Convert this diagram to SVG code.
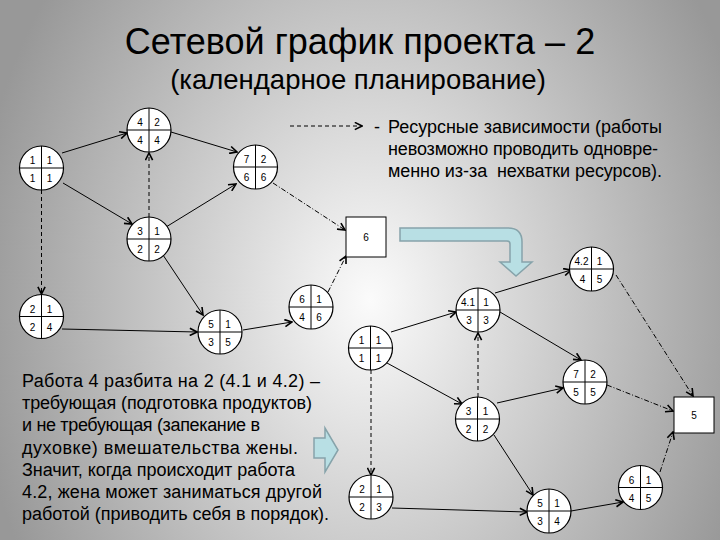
<svg xmlns="http://www.w3.org/2000/svg" width="720" height="540" viewBox="0 0 720 540">
<defs>
<radialGradient id="bg" gradientUnits="userSpaceOnUse" cx="0" cy="0" r="1" gradientTransform="translate(370 300) scale(400 520)">
<stop offset="0" stop-color="#fbfbfb"/>
<stop offset="1" stop-color="#989898"/>
</radialGradient>
<marker id="ah" viewBox="0 0 10 10" refX="9" refY="5" markerWidth="9" markerHeight="9" markerUnits="userSpaceOnUse" orient="auto">
<path d="M1,1 L9,5 L1,9" fill="none" stroke="#000" stroke-width="1.8" stroke-dasharray="none"/>
</marker>
<style>
.node circle{fill:#fff;stroke:#000;stroke-width:1.2}
.node path{stroke:#000;stroke-width:1;fill:none}
.node text,.box text{font-family:"Liberation Sans",Arial,sans-serif;font-size:10px;text-anchor:middle;fill:#000}
.box rect{fill:#fff;stroke:#000;stroke-width:1}
.c line{stroke:#000;stroke-width:1;fill:none;marker-end:url(#ah)}
.c .d{stroke-dasharray:4,3}
.c .dd{stroke-dasharray:5,2,1,2}
.big{fill:#b8dfe4;stroke:#86a3aa;stroke-width:1.5}
.title{font-family:"Liberation Sans",Arial,sans-serif;fill:#000;text-anchor:middle}
.txt{font-family:"Liberation Sans",Arial,sans-serif;font-size:18px;fill:#000}
</style>
</defs>
<rect width="720" height="540" fill="url(#bg)"/>

<text class="title" x="360" y="54" font-size="36">Сетевой график проекта – 2</text>
<text class="title" x="358" y="89" font-size="27.5">(календарное планирование)</text>

<g id="legend">
<line x1="290" y1="126" x2="362" y2="126" stroke="#000" stroke-width="1" stroke-dasharray="4,3" marker-end="url(#ah)"/>
<text class="txt" x="374" y="133">-</text>
<text class="txt" x="388" y="133" textLength="274">Ресурсные зависимости (работы</text>
<text class="txt" x="388" y="155" textLength="270">невозможно проводить одновре-</text>
<text class="txt" x="388" y="177" textLength="274" style="white-space:pre">менно из-за  нехватки ресурсов).</text>
</g>

<g id="note">
<text class="txt" x="22" y="387" textLength="298">Работа 4 разбита на 2 (4.1 и 4.2) –</text>
<text class="txt" x="22" y="409.2" textLength="290">требующая (подготовка продуктов)</text>
<text class="txt" x="22" y="431.4" textLength="238">и не требующая (запекание в</text>
<text class="txt" x="22" y="453.6" textLength="276">духовке) вмешательства жены.</text>
<text class="txt" x="22" y="475.8" textLength="273">Значит, когда происходит работа</text>
<text class="txt" x="22" y="498" textLength="300">4.2, жена может заниматься другой</text>
<text class="txt" x="22" y="520.2" textLength="307">работой (приводить себя в порядок).</text>
</g>

<g id="bigArrows">
<path class="big" d="M400,228 H508 Q522,228 522,242 V262 H532 L516,276 L500,262 H510 V244 Q510,241 507,241 H400 Z"/>
<path class="big" d="M314,438 H325 V428 L338,450 L325,472 V458 H314 Z"/>
</g>

<g id="connectors" class="c">
<line x1="62" y1="153" x2="127" y2="133"/>
<line x1="171" y1="132" x2="237" y2="152"/>
<line x1="63" y1="183" x2="132" y2="224"/>
<line x1="166" y1="227" x2="236" y2="184"/>
<line class="d" x1="149" y1="217" x2="149" y2="153"/>
<line class="d" x1="41.5" y1="190" x2="41.5" y2="294"/>
<line x1="62" y1="329" x2="197" y2="332"/>
<line x1="163" y1="255" x2="203" y2="315"/>
<line x1="243" y1="330" x2="292" y2="322"/>
<line class="dd" x1="273" y1="183" x2="345" y2="230"/>
<line class="dd" x1="328" y1="292" x2="346" y2="256"/>

<line x1="391" y1="332" x2="456" y2="312"/>
<line x1="495" y1="293" x2="571" y2="270"/>
<line x1="500" y1="312" x2="581" y2="360"/>
<line x1="387" y1="363" x2="462" y2="404"/>
<line class="d" x1="478" y1="397" x2="478" y2="333"/>
<line class="d" x1="371" y1="370" x2="371" y2="475"/>
<line x1="497" y1="403" x2="563" y2="388"/>
<line x1="494" y1="435" x2="533" y2="495"/>
<line x1="392" y1="508" x2="527" y2="512"/>
<line x1="571" y1="511" x2="623" y2="502"/>
<line class="dd" x1="660" y1="472" x2="673" y2="432"/>
<line class="dd" x1="607" y1="385" x2="673" y2="411"/>
<line class="dd" x1="616" y1="275" x2="693" y2="396"/>
</g>

<g id="box6" class="box"><rect x="346" y="217" width="40" height="40"/><text x="366" y="241">6</text></g>
<g id="box5" class="box"><rect x="674" y="397" width="40" height="36"/><text x="694" y="419">5</text></g>

<g id="nA" class="node" transform="translate(41.5 168)"><circle r="22"/><path d="M0,-22V22M-22,0H22"/><text x="-9" y="-4">1</text><text x="8" y="-4">1</text><text x="-9" y="14">1</text><text x="8" y="14">1</text></g>
<g id="nB" class="node" transform="translate(149 130)"><circle r="22"/><path d="M0,-22V22M-22,0H22"/><text x="-9" y="-4">4</text><text x="8" y="-4">2</text><text x="-9" y="14">4</text><text x="8" y="14">4</text></g>
<g id="nC" class="node" transform="translate(255.5 167)"><circle r="22"/><path d="M0,-22V22M-22,0H22"/><text x="-9" y="-4">7</text><text x="8" y="-4">2</text><text x="-9" y="14">6</text><text x="8" y="14">6</text></g>
<g id="nD" class="node" transform="translate(149 239)"><circle r="22"/><path d="M0,-22V22M-22,0H22"/><text x="-9" y="-4">3</text><text x="8" y="-4">1</text><text x="-9" y="14">2</text><text x="8" y="14">2</text></g>
<g id="nE" class="node" transform="translate(41.5 316.5)"><circle r="22"/><path d="M0,-22V22M-22,0H22"/><text x="-9" y="-4">2</text><text x="8" y="-4">1</text><text x="-9" y="14">2</text><text x="8" y="14">4</text></g>
<g id="nF" class="node" transform="translate(220 332)"><circle r="22"/><path d="M0,-22V22M-22,0H22"/><text x="-9" y="-4">5</text><text x="8" y="-4">1</text><text x="-9" y="14">3</text><text x="8" y="14">5</text></g>
<g id="nG" class="node" transform="translate(311 307)"><circle r="22"/><path d="M0,-22V22M-22,0H22"/><text x="-9" y="-4">6</text><text x="8" y="-4">1</text><text x="-9" y="14">4</text><text x="8" y="14">6</text></g>

<g id="nH" class="node" transform="translate(370.5 348)"><circle r="22"/><path d="M0,-22V22M-22,0H22"/><text x="-9" y="-4">1</text><text x="8" y="-4">1</text><text x="-9" y="14">1</text><text x="8" y="14">1</text></g>
<g id="nI" class="node" transform="translate(478 310)"><circle r="22"/><path d="M0,-22V22M-22,0H22"/><text x="-10" y="-4">4.1</text><text x="8" y="-4">1</text><text x="-9" y="14">3</text><text x="8" y="14">3</text></g>
<g id="nJ" class="node" transform="translate(591.5 269)"><circle r="22"/><path d="M0,-22V22M-22,0H22"/><text x="-10" y="-4">4.2</text><text x="8" y="-4">1</text><text x="-9" y="14">4</text><text x="8" y="14">5</text></g>
<g id="nK" class="node" transform="translate(585 382)"><circle r="22"/><path d="M0,-22V22M-22,0H22"/><text x="-9" y="-4">7</text><text x="8" y="-4">2</text><text x="-9" y="14">5</text><text x="8" y="14">5</text></g>
<g id="nL" class="node" transform="translate(477.5 419)"><circle r="22"/><path d="M0,-22V22M-22,0H22"/><text x="-9" y="-4">3</text><text x="8" y="-4">1</text><text x="-9" y="14">2</text><text x="8" y="14">2</text></g>
<g id="nM" class="node" transform="translate(371 497)"><circle r="22"/><path d="M0,-22V22M-22,0H22"/><text x="-9" y="-4">2</text><text x="8" y="-4">1</text><text x="-9" y="14">2</text><text x="8" y="14">3</text></g>
<g id="nN" class="node" transform="translate(549 511)"><circle r="22"/><path d="M0,-22V22M-22,0H22"/><text x="-9" y="-4">5</text><text x="8" y="-4">1</text><text x="-9" y="14">3</text><text x="8" y="14">4</text></g>
<g id="nO" class="node" transform="translate(640.5 487.5)"><circle r="22"/><path d="M0,-22V22M-22,0H22"/><text x="-9" y="-4">6</text><text x="8" y="-4">1</text><text x="-9" y="14">4</text><text x="8" y="14">5</text></g>
</svg>
